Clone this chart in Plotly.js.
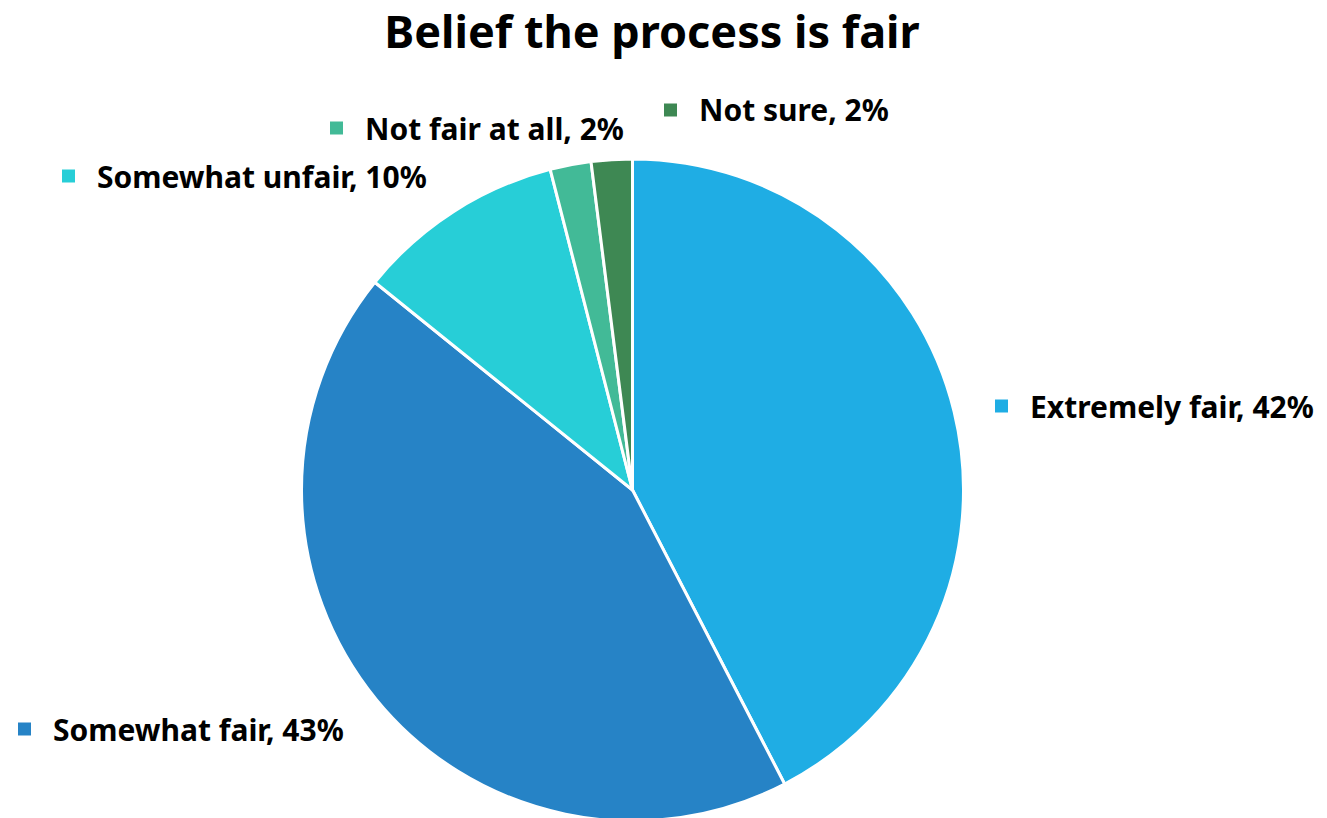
<!DOCTYPE html>
<html>
<head>
<meta charset="utf-8">
<script src="https://cdn.plot.ly/plotly-3.0.1.min.js"></script>
<style>html,body{margin:0;padding:0;background:#fff;overflow:hidden}#chart{width:1327px;height:840px}</style>
</head>
<body>
<div id="chart"></div>
<script>
const categories = ["Extremely fair", "Somewhat fair", "Somewhat unfair", "Not fair at all", "Not sure"];
const values = [42.4, 43.4, 10.2, 2.0, 2.0];
const shownPercent = ["42%", "43%", "10%", "2%", "2%"];
const colors = ["#1FADE4", "#2683C6", "#27CED7", "#42BA97", "#3E8853"];

const W = 1327, H = 840;
// label anchor positions in pixels (square left edge, text vertical center)
const labelPos = [[995, 406], [18, 729], [62, 176], [330, 128], [664, 110]];

const px = x => x / W;
const py = y => 1 - y / H;

const cx = 632.5, cy = 490, R = 331;

const trace = {
  type: "pie",
  labels: categories,
  values: values,
  sort: false,
  direction: "clockwise",
  rotation: 0,
  textinfo: "none",
  hoverinfo: "label+percent",
  marker: { colors: colors, line: { color: "#ffffff", width: 3 } },
  domain: { x: [px(cx - R), px(cx + R)], y: [py(cy + R), py(cy - R)] },
  showlegend: false
};

const annotations = [];
const shapes = [];
const font = "'Noto Sans', 'Open Sans', sans-serif";
categories.forEach((c, i) => {
  const [lx, ly] = labelPos[i];
  shapes.push({
    type: "rect", xref: "paper", yref: "paper",
    x0: px(lx), x1: px(lx + 13), y0: py(ly + 6.5), y1: py(ly - 6.5),
    fillcolor: colors[i], line: { width: 0 }
  });
  annotations.push({
    xref: "paper", yref: "paper", x: px(lx + 33), y: py(ly),
    xanchor: "left", yanchor: "middle", showarrow: false,
    text: "<b>" + c + ", " + shownPercent[i] + "</b>",
    font: { family: font, size: 30, color: "#000000" }
  });
});

const layout = {
  width: W, height: H,
  margin: { l: 0, r: 0, t: 0, b: 0 },
  paper_bgcolor: "#ffffff",
  title: {
    text: "<b>Belief the process is fair</b>",
    x: 652 / W, xanchor: "center", y: py(32), yanchor: "middle",
    font: { family: font, size: 45, color: "#000000" }
  },
  shapes: shapes,
  annotations: annotations
};

Plotly.newPlot("chart", [trace], layout, { displayModeBar: false, staticPlot: true });
</script>
</body>
</html>
